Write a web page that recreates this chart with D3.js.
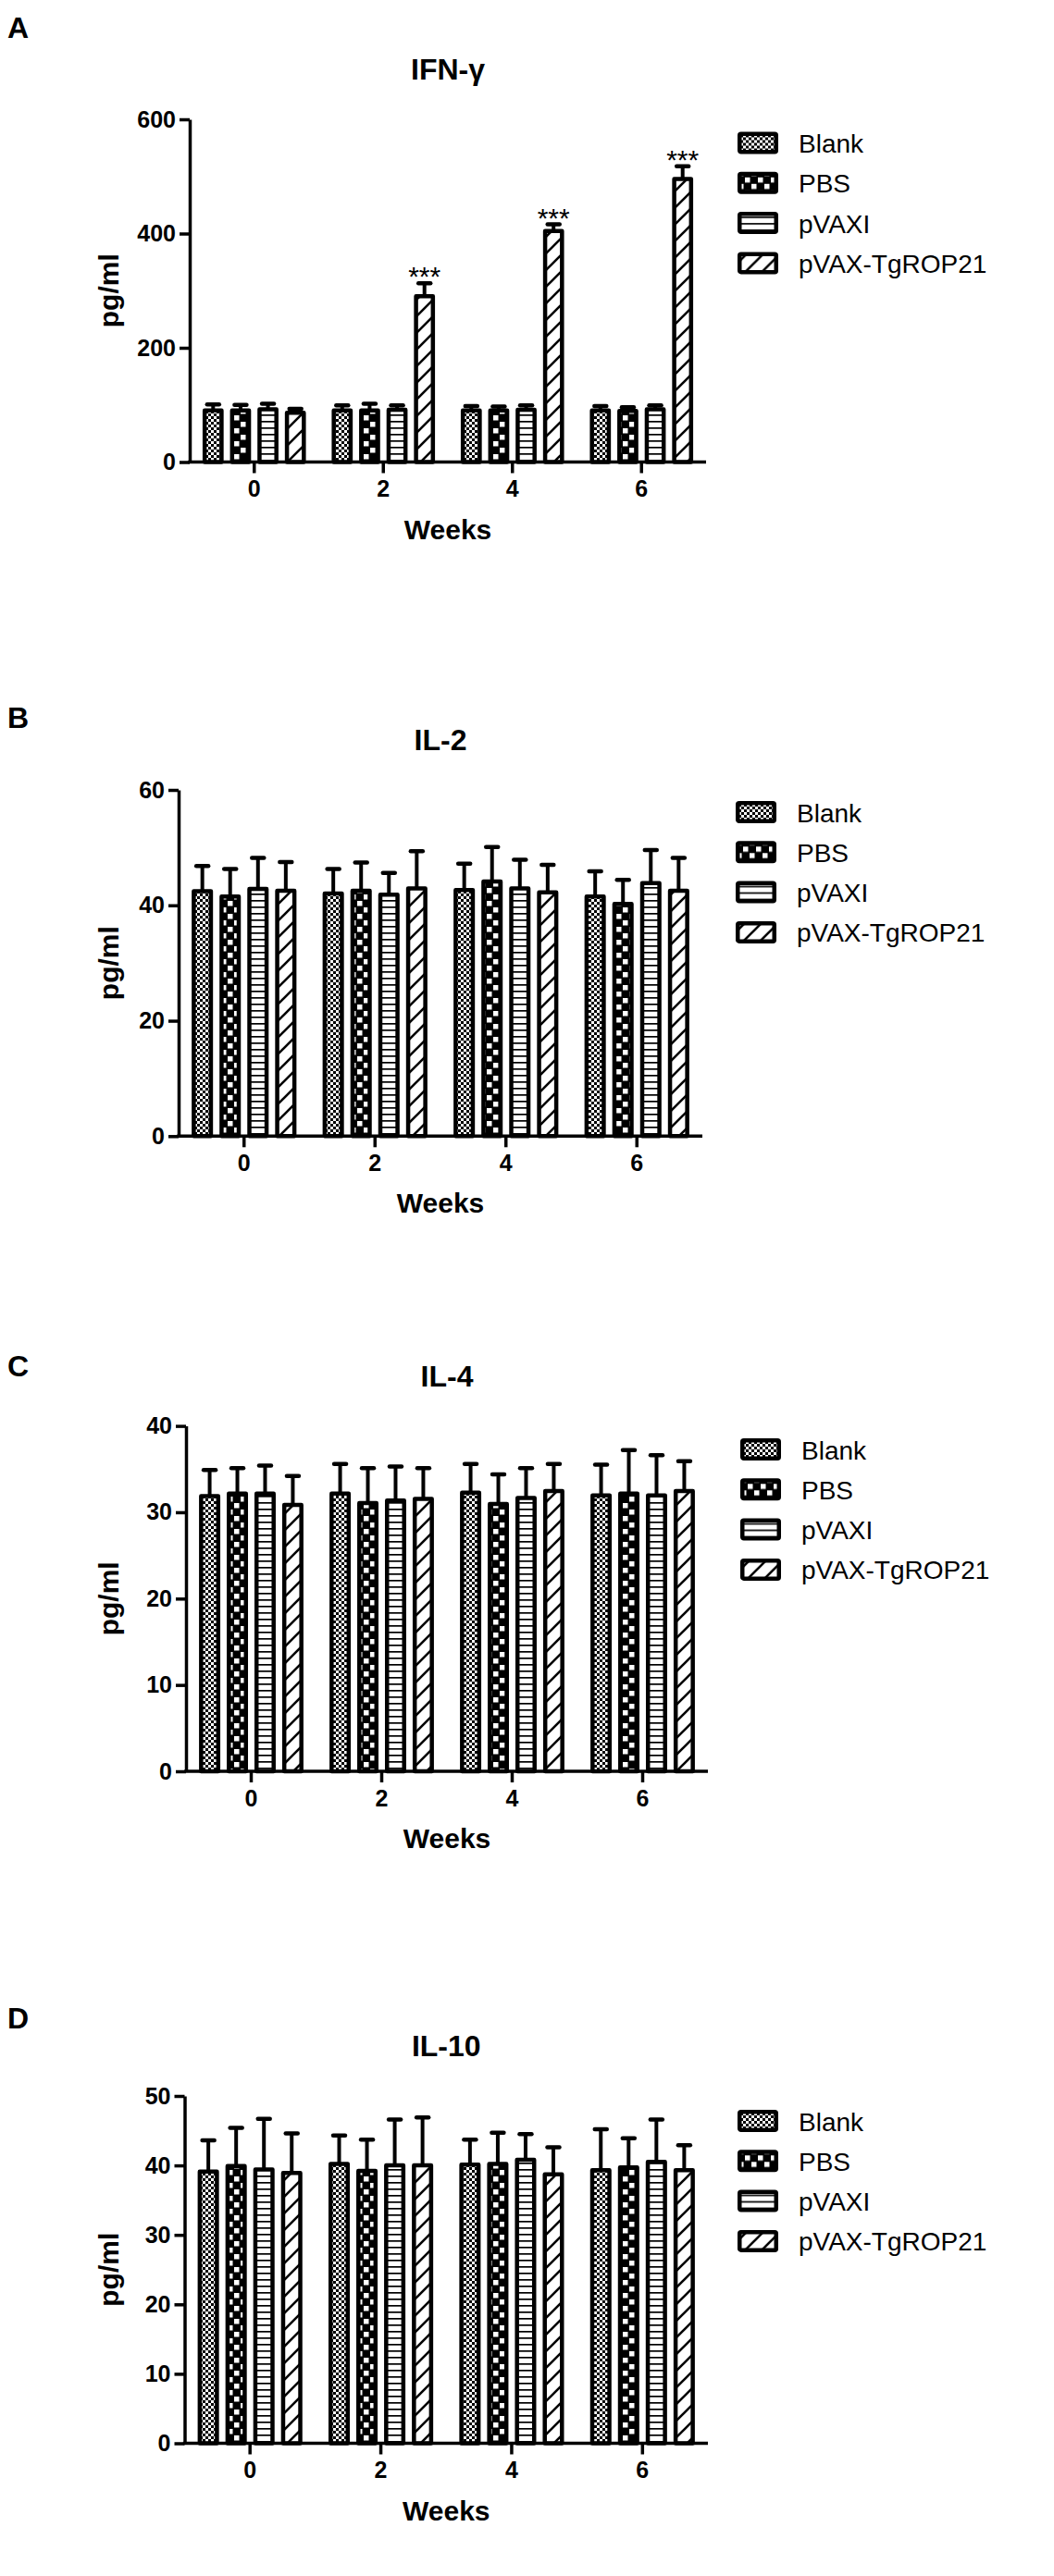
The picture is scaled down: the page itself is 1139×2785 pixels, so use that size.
<!DOCTYPE html>
<html>
<head>
<meta charset="utf-8">
<script src="https://cdn.jsdelivr.net/npm/d3@7"></script>
<style>
  body { margin: 0; background: #fff; }
  svg { display: block; }
  text { font-family: "Liberation Sans", Arial, sans-serif; fill: #000; }
</style>
</head>
<body>
<svg id="fig" width="1139" height="2785"></svg>
<script>
// — Data ——————————————————————————————————————————————————————————
const WEEKS  = ['0', '2', '4', '6'];
const GROUPS = ['Blank', 'PBS', 'pVAXI', 'pVAX-TgROP21'];

// one row per group, one value per week (pg/ml)
const IFN_MEAN = [[94, 94, 94, 94], [94, 94, 94, 93], [96, 95, 95, 96], [90, 294, 408, 499]];
const IFN_SD   = [[7, 5, 4, 4], [6, 8, 3, 3], [6, 4, 4, 3], [3, 19, 8, 19]];
const IFN_TICKS = [0, 200, 400, 600];
const IFN_SIG   = ['', '***', '***', '***'];   // pVAX-TgROP21 vs controls

const IL2_MEAN = [[42.8, 42.4, 43.0, 41.9], [41.9, 42.9, 44.5, 40.6], [43.2, 42.2, 43.3, 44.2], [42.9, 43.3, 42.6, 42.9]];
const IL2_SD   = [[4.0, 3.9, 4.2, 4.0], [4.4, 4.5, 5.6, 3.8], [5.0, 3.4, 4.6, 5.4], [4.6, 6.1, 4.4, 5.3]];
const IL2_TICKS = [0, 20, 40, 60];

const IL4_MEAN = [[32.1, 32.4, 32.5, 32.2], [32.4, 31.3, 31.2, 32.4], [32.4, 31.6, 31.9, 32.2], [31.1, 31.8, 32.7, 32.7]];
const IL4_SD   = [[2.8, 3.2, 3.1, 3.3], [2.7, 3.8, 3.2, 4.8], [3.0, 3.7, 3.2, 4.4], [3.1, 3.3, 2.9, 3.2]];
const IL4_TICKS = [0, 10, 20, 30, 40];

const IL10_MEAN = [[39.4, 40.5, 40.4, 39.6], [40.2, 39.5, 40.5, 40.0], [39.7, 40.3, 41.1, 40.8], [39.2, 40.3, 39.0, 39.6]];
const IL10_SD   = [[4.2, 3.8, 3.3, 5.6], [5.2, 4.2, 4.2, 3.9], [7.0, 6.3, 3.4, 5.8], [5.4, 6.6, 3.6, 3.3]];
const IL10_TICKS = [0, 10, 20, 30, 40, 50];

// — Layout (pixel boxes for each panel) ——————————————————————————————
const PANELS = [
  { letter: 'A', letterY: 41,   title: 'IFN-γ', mean: IFN_MEAN,  sd: IFN_SD,  ticks: IFN_TICKS,  sig: IFN_SIG,
    x0: 205, x1: 763, yTop: 129,  y0: 499.5,  legX: 797, legY: 154.5 },
  { letter: 'B', letterY: 787,  title: 'IL-2',  mean: IL2_MEAN,  sd: IL2_SD,  ticks: IL2_TICKS,  sig: null,
    x0: 193, x1: 759, yTop: 854,  y0: 1228.3, legX: 795, legY: 878 },
  { letter: 'C', letterY: 1488, title: 'IL-4',  mean: IL4_MEAN,  sd: IL4_SD,  ticks: IL4_TICKS,  sig: null,
    x0: 201, x1: 765, yTop: 1541.6, y0: 1915, legX: 800, legY: 1567 },
  { letter: 'D', letterY: 2193, title: 'IL-10', mean: IL10_MEAN, sd: IL10_SD, ticks: IL10_TICKS, sig: null,
    x0: 199.5, x1: 765, yTop: 2266, y0: 2641.5, legX: 797, legY: 2293 },
];

const INK = '#000';
const BAR_STROKE = 4.5;
const PATTERNS = ['pat-blank', 'pat-pbs', 'pat-pvaxi', 'pat-rop'];

const svg = d3.select('#fig');

// — Fill patterns ————————————————————————————————————————————————
const defs = svg.append('defs');

function pattern(id, w, h, bg) {
  const p = defs.append('pattern').attr('id', id)
    .attr('patternUnits', 'userSpaceOnUse').attr('width', w).attr('height', h);
  p.append('rect').attr('width', w).attr('height', h).attr('fill', bg || '#fff');
  return p;
}

// Blank: fine checker
const pBlank = pattern('pat-blank', 6, 6);
pBlank.append('rect').attr('width', 3).attr('height', 3).attr('fill', INK);
pBlank.append('rect').attr('x', 3).attr('y', 3).attr('width', 3).attr('height', 3).attr('fill', INK);

// PBS: coarse checker, white squares on black
const pPbs = pattern('pat-pbs', 14, 14, INK);
pPbs.append('rect').attr('x', 1).attr('y', 1).attr('width', 5.5).attr('height', 5.5).attr('fill', '#fff');
pPbs.append('rect').attr('x', 8).attr('y', 8).attr('width', 5.5).attr('height', 5.5).attr('fill', '#fff');

// pVAXI: horizontal lines
const pVaxi = pattern('pat-pvaxi', 7, 7);
pVaxi.append('rect').attr('y', 0).attr('width', 7).attr('height', 1.7).attr('fill', INK);

// pVAX-TgROP21: diagonal hatch
const pRop = pattern('pat-rop', 18, 18);
pRop.append('path').attr('d', 'M0,18L18,0M-4,4L4,-4M14,22L22,14')
  .attr('stroke', INK).attr('stroke-width', 2.6).attr('fill', 'none');

// — Panels ———————————————————————————————————————————————————————
PANELS.forEach(drawPanel);

function drawPanel(p) {
  const g = svg.append('g');
  const yMax = p.ticks[p.ticks.length - 1];

  const x = d3.scaleBand().domain(WEEKS).range([p.x0, p.x1]);
  const xi = d3.scaleBand().domain(GROUPS).range([0, x.bandwidth()])
    .paddingInner(0.233).paddingOuter(0.47);
  const y = d3.scaleLinear().domain([0, yMax]).range([p.y0, p.yTop]);

  // flatten rows into bar records
  const bars = [];
  GROUPS.forEach((grp, gi) => {
    WEEKS.forEach((wk, wi) => {
      bars.push({ grp, gi, wk, wi, mean: p.mean[gi][wi], sd: p.sd[gi][wi],
                  sig: p.sig && gi === 3 ? p.sig[wi] : '' });
    });
  });

  const cx = d => x(d.wk) + xi(d.grp) + xi.bandwidth() / 2;

  // error bars (upper only) — drawn first so the bar outline covers the base
  const eb = g.append('g').attr('stroke', INK);
  eb.selectAll('line.stem').data(bars).join('line').attr('class', 'stem')
    .attr('x1', cx).attr('x2', cx)
    .attr('y1', d => y(d.mean) + 2).attr('y2', d => y(d.mean + d.sd))
    .attr('stroke-width', 4);
  eb.selectAll('line.cap').data(bars).join('line').attr('class', 'cap')
    .attr('x1', d => cx(d) - 6.5).attr('x2', d => cx(d) + 6.5)
    .attr('y1', d => y(d.mean + d.sd)).attr('y2', d => y(d.mean + d.sd))
    .attr('stroke-width', 4.5).attr('stroke-linecap', 'round');

  // bars
  g.append('g').selectAll('rect').data(bars).join('rect')
    .attr('x', d => x(d.wk) + xi(d.grp) + BAR_STROKE / 2)
    .attr('width', xi.bandwidth() - BAR_STROKE)
    .attr('y', d => y(d.mean) + BAR_STROKE / 2)
    .attr('height', d => p.y0 - y(d.mean) - BAR_STROKE / 2)
    .attr('fill', d => `url(#${PATTERNS[d.gi]})`)
    .attr('stroke', INK).attr('stroke-width', BAR_STROKE)
    .attr('stroke-linejoin', 'round');

  // significance stars
  g.append('g').selectAll('text').data(bars.filter(d => d.sig)).join('text')
    .attr('x', cx).attr('y', d => y(d.mean + d.sd) + 3)
    .attr('text-anchor', 'middle').attr('font-size', 30)
    .text(d => d.sig);

  // axes
  const gy = g.append('g').attr('transform', `translate(${p.x0},0)`)
    .call(d3.axisLeft(y).tickValues(p.ticks).tickSize(11).tickPadding(4).tickSizeOuter(0));
  const gx = g.append('g').attr('transform', `translate(0,${p.y0})`)
    .call(d3.axisBottom(x).tickSize(12).tickPadding(8).tickSizeOuter(0));
  [gy, gx].forEach(a => {
    a.select('.domain').attr('stroke', INK).attr('stroke-width', 3.5);
    a.selectAll('.tick line').attr('stroke', INK).attr('stroke-width', 3.5);
    a.selectAll('.tick text').attr('fill', INK)
      .style('font-family', '"Liberation Sans", Arial, sans-serif')
      .style('font-size', '25px').style('font-weight', 'bold');
  });
  gx.select('.domain').attr('d', `M${p.x0 - 1.75},0H${p.x1}`);

  const midX = (p.x0 + p.x1) / 2;

  // title
  g.append('text').attr('x', midX).attr('y', p.yTop - 43)
    .attr('text-anchor', 'middle').attr('font-size', 32).attr('font-weight', 'bold')
    .text(p.title);

  // axis titles
  g.append('text').attr('x', midX).attr('y', p.y0 + 83)
    .attr('text-anchor', 'middle').attr('font-size', 30).attr('font-weight', 'bold')
    .text('Weeks');
  g.append('text')
    .attr('transform', `translate(128,${(p.yTop + p.y0) / 2}) rotate(-90)`)
    .attr('text-anchor', 'middle').attr('font-size', 30).attr('font-weight', 'bold')
    .text('pg/ml');

  // panel letter
  g.append('text').attr('x', 8).attr('y', p.letterY)
    .attr('font-size', 32).attr('font-weight', 'bold').text(p.letter);

  // legend
  const leg = g.append('g').selectAll('g').data(GROUPS).join('g')
    .attr('transform', (d, i) => `translate(${p.legX},${p.legY + i * 43.3})`);
  leg.append('rect')
    .attr('x', BAR_STROKE / 2).attr('y', -12 + BAR_STROKE / 2)
    .attr('width', 44 - BAR_STROKE).attr('height', 24 - BAR_STROKE)
    .attr('fill', (d, i) => `url(#${PATTERNS[i]})`)
    .attr('stroke', INK).attr('stroke-width', BAR_STROKE).attr('rx', 1.5);
  leg.append('text').attr('x', 66).attr('y', 10.5)
    .attr('font-size', 28).text(d => d);
}
</script>
</body>
</html>
